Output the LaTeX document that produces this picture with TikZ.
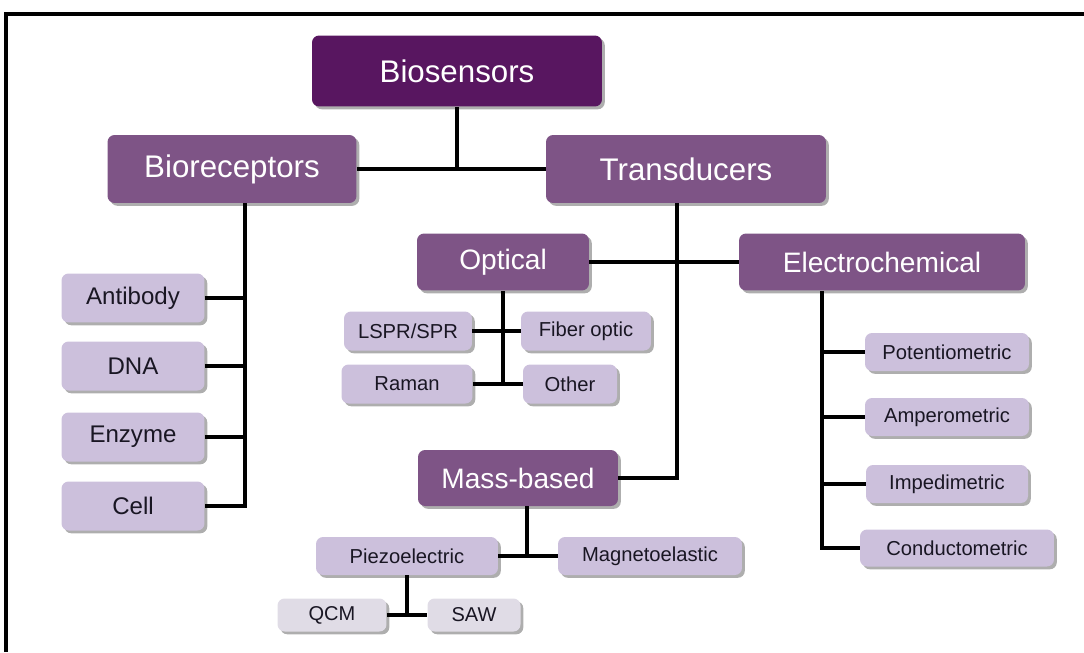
\documentclass[tikz,border=0pt]{standalone}
\usepackage{fontspec}
\setmainfont{Liberation Sans}
\usetikzlibrary{shadows}

\definecolor{topPurple}{RGB}{88,22,96}
\definecolor{midPurple}{RGB}{126,84,134}
\definecolor{leafPurple}{RGB}{204,192,220}
\definecolor{palePurple}{RGB}{224,220,230}
\definecolor{leafText}{RGB}{25,22,35}

\begin{document}
\begin{tikzpicture}[x=0.02cm, y=-0.02cm,
    box/.style={rounded corners=4pt, inner sep=0pt,
        drop shadow={shadow xshift=1.6pt, shadow yshift=-1.6pt, fill=black!45, opacity=0.7}},
    topbox/.style={box, fill=topPurple, text=white, font=\fontsize{17.8}{20}\selectfont},
    midbox/.style={box, fill=midPurple, text=white, font=\fontsize{17.8}{20}\selectfont},
    subbox/.style={box, fill=midPurple, text=white, font=\fontsize{16}{19}\selectfont},
    bigleaf/.style={box, fill=leafPurple, text=leafText, font=\fontsize{13.7}{16}\selectfont},
    leaf/.style={box, fill=leafPurple, text=leafText, font=\fontsize{11.5}{14}\selectfont},
    paleleaf/.style={box, fill=palePurple, text=leafText, font=\fontsize{11.4}{14}\selectfont},
    link/.style={line width=1.9pt, black}]
    \useasboundingbox (0,0) rectangle (1084,652);
    \draw[line width=2.2pt] (6,652) -- (6,14) -- (1084,14);

    % top levels
    \node[topbox, minimum width=5.8cm, minimum height=1.42cm] (bios) at (457,71) {Biosensors};
    \node[midbox, minimum width=4.98cm, minimum height=1.36cm] (bior) at (232,169) {Bioreceptors};
    \node[midbox, minimum width=5.6cm, minimum height=1.36cm] (trans) at (686,169) {Transducers};

    % bioreceptor types
    \node[bigleaf, minimum width=2.86cm, minimum height=0.98cm] (antibody) at (133,298) {Antibody};
    \node[bigleaf, minimum width=2.86cm, minimum height=0.98cm] (dna) at (133,366) {DNA};
    \node[bigleaf, minimum width=2.86cm, minimum height=0.98cm] (enzyme) at (133,437) {Enzyme};
    \node[bigleaf, minimum width=2.86cm, minimum height=0.98cm] (cell) at (133,506) {Cell};

    % transducer types
    \node[subbox, minimum width=3.44cm, minimum height=1.14cm] (optical) at (503,262) {Optical};
    \node[subbox, minimum width=5.72cm, minimum height=1.14cm] (electro) at (882,262) {Electrochemical};
    \node[subbox, minimum width=4.0cm, minimum height=1.12cm] (mass) at (518,478) {Mass-based};

    \node[leaf, minimum width=2.56cm, minimum height=0.78cm] (lspr) at (408,331) {LSPR/SPR};
    \node[leaf, minimum width=2.6cm, minimum height=0.78cm] (fiber) at (586,331) {Fiber optic};
    \node[leaf, minimum width=2.62cm, minimum height=0.78cm] (raman) at (407,384) {Raman};
    \node[leaf, minimum width=1.88cm, minimum height=0.78cm] (other) at (570,384) {Other};

    \node[leaf, minimum width=3.28cm, minimum height=0.76cm] (pot) at (947,352) {Potentiometric};
    \node[leaf, minimum width=3.28cm, minimum height=0.76cm] (amp) at (947,417) {Amperometric};
    \node[leaf, minimum width=3.24cm, minimum height=0.76cm] (imp) at (947,484) {Impedimetric};
    \node[leaf, minimum width=3.88cm, minimum height=0.74cm] (cond) at (957,548) {Conductometric};

    \node[leaf, minimum width=3.64cm, minimum height=0.76cm] (piezo) at (407,556) {Piezoelectric};
    \node[leaf, minimum width=3.68cm, minimum height=0.76cm] (magneto) at (650,556) {Magnetoelastic};
    \node[paleleaf, minimum width=2.18cm, minimum height=0.66cm] (qcm) at (332,615) {QCM};
    \node[paleleaf, minimum width=1.86cm, minimum height=0.66cm] (saw) at (474,615) {SAW};

    % connectors
    \draw[link] (bior.east) -- (trans.west);
    \draw[link] (bios.south) -- (bios.south |- bior.east);

    \coordinate (bl) at ([xshift=0.26cm]bior.south);
    \draw[link] (bl) |- (cell.east);
    \foreach \n in {antibody,dna,enzyme}
        \draw[link] (\n.east) -- (\n.east -| bl);

    \draw[link] (optical.east) -- (electro.west);
    \draw[link] ([xshift=-0.18cm]trans.south) |- (mass.east);

    \draw[link] (optical.south) -- (optical.south |- raman.east);
    \draw[link] (lspr.east) -- (fiber.west);
    \draw[link] (raman.east) -- (other.west);

    \coordinate (el) at ([xshift=-1.2cm]electro.south);
    \draw[link] (el) |- (cond.west);
    \foreach \n in {pot,amp,imp}
        \draw[link] (\n.west) -- (\n.west -| el);

    \draw[link] ([xshift=0.18cm]mass.south) -- ([xshift=0.18cm]mass.south |- piezo.east);
    \draw[link] (piezo.east) -- (magneto.west);

    \draw[link] (piezo.south) -- (piezo.south |- qcm.east);
    \draw[link] (qcm.east) -- (saw.west);
\end{tikzpicture}
\end{document}
